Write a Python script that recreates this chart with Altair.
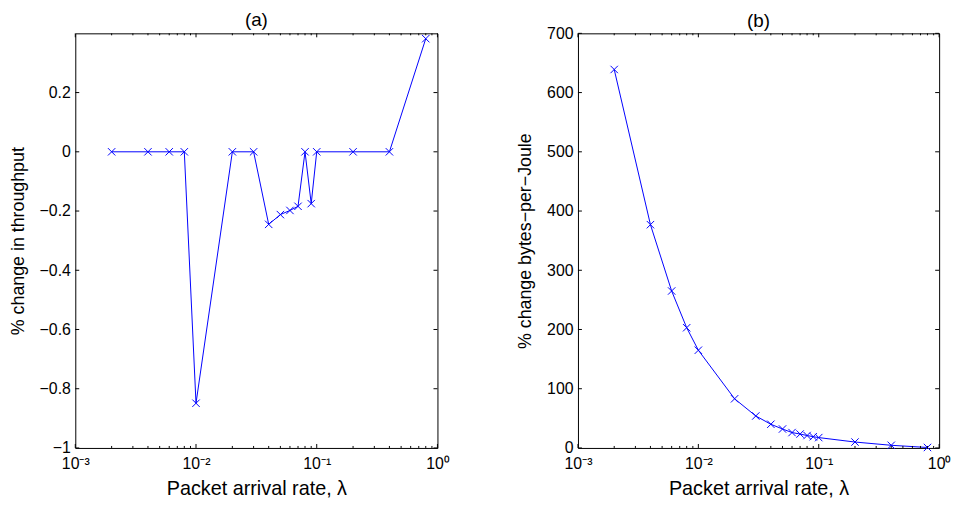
import json
import altair as alt
import pandas as pd

# ---- data ----
rate = [0.002, 0.004, 0.006, 0.008, 0.01, 0.02, 0.03, 0.04, 0.05, 0.06,
        0.07, 0.08, 0.09, 0.1, 0.2, 0.4, 0.8]
throughput_change = [0, 0, 0, 0, -0.849, 0, 0, -0.245, -0.212, -0.198,
                     -0.184, 0, -0.175, 0, 0, 0, 0.382]
bpj_change = [639, 377, 265, 203, 165, 83, 54, 40, 32, 26,
              23.5, 21, 19, 17.5, 10, 4.5, 0.8]

x_major = [0.001, 0.01, 0.1, 1]
x_minor = [0.002, 0.003, 0.004, 0.005, 0.006, 0.007, 0.008, 0.009,
           0.02, 0.03, 0.04, 0.05, 0.06, 0.07, 0.08, 0.09,
           0.2, 0.3, 0.4, 0.5, 0.6, 0.7, 0.8, 0.9]
x_tick_labels = ["10⁻³", "10⁻²", "10⁻¹", "10⁰"]
y_ticks_a = [-1, -0.8, -0.6, -0.4, -0.2, 0, 0.2]
y_ticks_b = [0, 100, 200, 300, 400, 500, 600, 700]

BLUE = "#0000ff"
FONT = "Liberation Sans"
XPATH = "M-1,-1L1,1M-1,1L1,-1"
label_expr = json.dumps(x_tick_labels) + "[round(log(datum.value)/LN10)+3]"


def panel(values, ydom, yticks, ytitle, title, W, H, toff):
    df = pd.DataFrame({"rate": rate, "value": values})
    xs = alt.Scale(type="log", domain=[0.001, 1], nice=False)
    ys = alt.Scale(domain=ydom, nice=False, zero=False)
    xaxis = alt.Axis(values=x_major, labelExpr=label_expr, ticks=False,
                     domain=False, grid=False, labelFlush=False,
                     title="Packet arrival rate, λ", labelPadding=8,
                     titlePadding=7, titleFontSize=20)
    yaxis = alt.Axis(values=yticks, format="~r", ticks=False, domain=False,
                     grid=False, title=ytitle, labelPadding=5,
                     titlePadding=12, titleFontSize=18)
    base = alt.Chart(df)
    line = base.mark_line(color=BLUE, strokeWidth=1).encode(
        x=alt.X("rate:Q", scale=xs, axis=xaxis),
        y=alt.Y("value:Q", scale=ys, axis=yaxis),
    )
    pts = base.mark_point(shape=XPATH, size=56, filled=False, color=BLUE,
                          strokeWidth=1, opacity=1).encode(
        x=alt.X("rate:Q", scale=xs, axis=xaxis),
        y=alt.Y("value:Q", scale=ys, axis=yaxis),
    )
    layers = []
    for vals, L in ((x_major, 4), (x_minor, 2)):
        d = pd.DataFrame({"t": vals})
        for y0, y1 in ((0, L), (H, H - L)):
            layers.append(
                alt.Chart(d).mark_rule(color="black", strokeWidth=1).encode(
                    x=alt.X("t:Q", scale=xs, axis=xaxis),
                    y=alt.value(y0), y2=alt.value(y1)))
    dy = pd.DataFrame({"t": yticks})
    for x0, x1 in ((0, 4), (W, W - 4)):
        layers.append(
            alt.Chart(dy).mark_rule(color="black", strokeWidth=1).encode(
                y=alt.Y("t:Q", scale=ys, axis=yaxis),
                x=alt.value(x0), x2=alt.value(x1)))
    return alt.layer(line, pts, *layers).properties(
        width=W, height=H,
        title=alt.TitleParams(title, fontSize=19, font=FONT,
                              fontWeight="normal", offset=toff,
                              color="black"),
    )


left = panel(throughput_change, [-1, 0.4], y_ticks_a,
             "% change in throughput", "(a)", 366, 419, 2.5)
right = panel(bpj_change, [0, 700], y_ticks_b,
              "% change bytes−per−Joule", "(b)", 365, 419, -5.5)

chart = alt.hconcat(left, right, spacing=66).properties(
    padding={"left": 0, "top": 0, "right": 0, "bottom": 0}
).configure_view(stroke="black", strokeWidth=1).configure_axis(
    labelFont=FONT, labelFontSize=16, labelColor="black",
    titleFont=FONT, titleFontWeight="normal", titleColor="black",
)

chart.save("out.html", embed_options={"renderer": "svg", "actions": False})
